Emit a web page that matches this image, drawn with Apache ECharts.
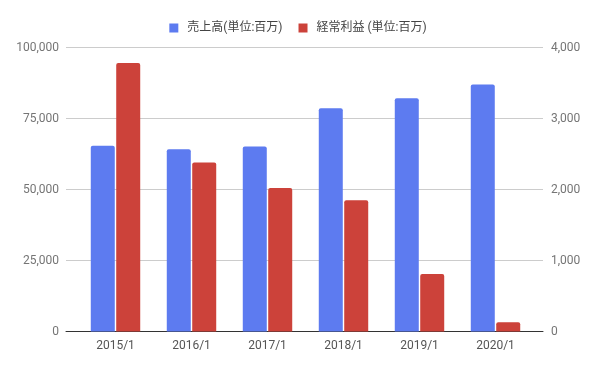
<!DOCTYPE html>
<html>
<head>
<meta charset="utf-8">
<script src="https://cdn.jsdelivr.net/npm/echarts@6/dist/echarts.min.js"></script>
<style>html,body{margin:0;padding:0;background:#fff}#c{width:596px;height:367px}</style>
</head>
<body>
<div id="c"></div>
<script>
const categories = ['2015/1', '2016/1', '2017/1', '2018/1', '2019/1', '2020/1'];
const salesName = '売上高(単位:百万)';
const profitName = '経常利益 (単位:百万)';
const sales = [65400, 64200, 65100, 78600, 82100, 87000];
const profit = [3780, 2380, 2020, 1850, 810, 130];
const leftTicks = [0, 25000, 50000, 75000, 100000];
const rightTicks = [0, 1000, 2000, 3000, 4000];

const chart = echarts.init(document.getElementById('c'));
const font = 'Roboto, "Noto Sans CJK JP", sans-serif';
const fmt = v => v.toLocaleString('en-US');
chart.setOption({
  animation: false,
  textStyle: { fontFamily: font },
  legend: {
    top: 17, left: 'center',
    icon: 'rect', itemWidth: 9, itemHeight: 9, itemGap: 16,
    textStyle: { fontSize: 12, color: '#444', fontFamily: font, padding: [0, 0, 0, 4] },
    data: [salesName, profitName]
  },
  grid: [
    { left: 77.5, right: 62.5, top: 47.5, bottom: 35.5 },
    { left: 66, right: 53, top: 47.5, bottom: 35.5 }
  ],
  xAxis: [
    { type: 'category', gridIndex: 0, data: categories,
      axisLine: { show: false }, axisTick: { show: false },
      axisLabel: { color: '#555', fontSize: 12, margin: 8, fontFamily: font } },
    { type: 'category', gridIndex: 1, data: categories,
      axisLine: { show: true, lineStyle: { color: '#333', width: 1 } },
      axisTick: { show: false }, axisLabel: { show: false } }
  ],
  yAxis: [
    { type: 'value', gridIndex: 0, min: leftTicks[0], max: leftTicks[4], interval: 25000, show: false },
    { type: 'value', gridIndex: 0, min: rightTicks[0], max: rightTicks[4], interval: 1000, show: false },
    { type: 'value', gridIndex: 1, position: 'left', min: leftTicks[0], max: leftTicks[4], interval: 25000,
      axisLine: { show: false }, axisTick: { show: false },
      axisLabel: { color: '#757575', fontSize: 12, margin: 7, formatter: fmt, fontFamily: font },
      splitLine: { lineStyle: { color: '#cccccc', width: 1 } } },
    { type: 'value', gridIndex: 1, position: 'right', min: rightTicks[0], max: rightTicks[4], interval: 1000,
      axisLine: { show: false }, axisTick: { show: false },
      axisLabel: { color: '#757575', fontSize: 12, margin: 8, formatter: fmt, fontFamily: font },
      splitLine: { show: false } }
  ],
  series: [
    { name: salesName, type: 'bar', xAxisIndex: 0, yAxisIndex: 0, data: sales,
      barWidth: 24, barGap: '6%', itemStyle: { color: '#5d7bf0', borderRadius: [2, 2, 0, 0] } },
    { name: profitName, type: 'bar', xAxisIndex: 0, yAxisIndex: 1, data: profit,
      barWidth: 24, barGap: '6%', itemStyle: { color: '#cc423a', borderRadius: [2, 2, 0, 0] } }
  ]
});
</script>
</body>
</html>
